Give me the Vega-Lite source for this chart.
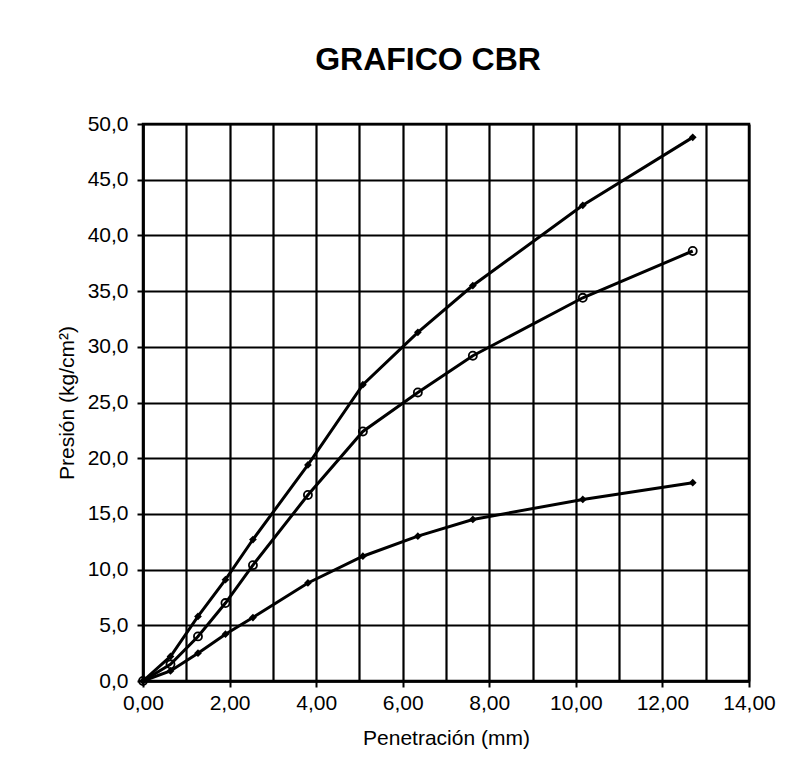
{
  "$schema": "https://vega.github.io/schema/vega-lite/v6.json",
  "width": 606,
  "height": 557,
  "autosize": {"type": "none"},
  "padding": {"left": 143, "top": 124, "right": 39, "bottom": 91},
  "background": "white",
  "title": {
    "text": "GRAFICO CBR",
    "fontSize": 32,
    "fontWeight": "bold",
    "font": "Liberation Sans",
    "color": "black",
    "anchor": "middle",
    "dx": -18,
    "offset": 36
  },
  "config": {
    "locale": {
      "number": {"decimal": ",", "thousands": ".", "grouping": [3], "currency": ["", ""]}
    },
    "view": {"stroke": "black", "strokeWidth": 2.5},
    "axis": {
      "labelFont": "Liberation Sans",
      "titleFont": "Liberation Sans",
      "labelFontSize": 21,
      "titleFontSize": 21,
      "titleFontWeight": "normal",
      "labelColor": "black",
      "titleColor": "black",
      "domainColor": "black",
      "domainWidth": 2.5,
      "tickColor": "black",
      "tickWidth": 2,
      "tickSize": 6,
      "gridColor": "black",
      "gridWidth": 2.2,
      "gridOpacity": 1
    }
  },
  "data": {
    "values": [
      {"pen": 0, "pres": 0, "serie": "A"},
      {"pen": 0.635, "pres": 2.2, "serie": "A"},
      {"pen": 1.27, "pres": 5.8, "serie": "A"},
      {"pen": 1.905, "pres": 9.1, "serie": "A"},
      {"pen": 2.54, "pres": 12.7, "serie": "A"},
      {"pen": 3.81, "pres": 19.4, "serie": "A"},
      {"pen": 5.08, "pres": 26.6, "serie": "A"},
      {"pen": 6.35, "pres": 31.3, "serie": "A"},
      {"pen": 7.62, "pres": 35.5, "serie": "A"},
      {"pen": 10.16, "pres": 42.7, "serie": "A"},
      {"pen": 12.7, "pres": 48.8, "serie": "A"},
      {"pen": 0, "pres": 0, "serie": "B"},
      {"pen": 0.635, "pres": 1.5, "serie": "B"},
      {"pen": 1.27, "pres": 4.0, "serie": "B"},
      {"pen": 1.905, "pres": 7.0, "serie": "B"},
      {"pen": 2.54, "pres": 10.4, "serie": "B"},
      {"pen": 3.81, "pres": 16.7, "serie": "B"},
      {"pen": 5.08, "pres": 22.4, "serie": "B"},
      {"pen": 6.35, "pres": 25.9, "serie": "B"},
      {"pen": 7.62, "pres": 29.2, "serie": "B"},
      {"pen": 10.16, "pres": 34.4, "serie": "B"},
      {"pen": 12.7, "pres": 38.6, "serie": "B"},
      {"pen": 0, "pres": 0, "serie": "C"},
      {"pen": 0.635, "pres": 0.9, "serie": "C"},
      {"pen": 1.27, "pres": 2.5, "serie": "C"},
      {"pen": 1.905, "pres": 4.2, "serie": "C"},
      {"pen": 2.54, "pres": 5.7, "serie": "C"},
      {"pen": 3.81, "pres": 8.8, "serie": "C"},
      {"pen": 5.08, "pres": 11.2, "serie": "C"},
      {"pen": 6.35, "pres": 13.0, "serie": "C"},
      {"pen": 7.62, "pres": 14.5, "serie": "C"},
      {"pen": 10.16, "pres": 16.3, "serie": "C"},
      {"pen": 12.7, "pres": 17.8, "serie": "C"}
    ]
  },
  "encoding": {
    "x": {
      "field": "pen",
      "type": "quantitative",
      "scale": {"domain": [0, 14], "nice": false, "zero": true},
      "axis": {
        "title": "Penetración (mm)",
        "values": [0, 1, 2, 3, 4, 5, 6, 7, 8, 9, 10, 11, 12, 13, 14],
        "labelExpr": "datum.value % 2 === 0 ? format(datum.value, '.2f') : ''",
        "tickOpacity": {"condition": {"test": "datum.value % 2 === 1", "value": 0}, "value": 1},
        "labelPadding": 5,
        "titlePadding": 14,
        "labelFlush": false,
        "labelOverlap": false
      }
    },
    "y": {
      "field": "pres",
      "type": "quantitative",
      "scale": {"domain": [0, 50], "nice": false},
      "axis": {
        "title": "Presión (kg/cm²)",
        "values": [0, 5, 10, 15, 20, 25, 30, 35, 40, 45, 50],
        "format": ".1f",
        "labelPadding": 9,
        "titlePadding": 10,
        "labelFlush": false,
        "labelOverlap": false
      }
    }
  },
  "layer": [
    {
      "mark": {"type": "line", "color": "black", "strokeWidth": 3},
      "encoding": {"detail": {"field": "serie"}}
    },
    {
      "transform": [{"filter": "datum.serie !== 'B'"}],
      "mark": {"type": "point", "shape": "diamond", "filled": true, "color": "black", "size": 60, "opacity": 1}
    },
    {
      "transform": [{"filter": "datum.serie === 'B'"}],
      "mark": {"type": "point", "shape": "circle", "filled": false, "stroke": "black", "strokeWidth": 1.8, "size": 65, "opacity": 1}
    }
  ]
}
